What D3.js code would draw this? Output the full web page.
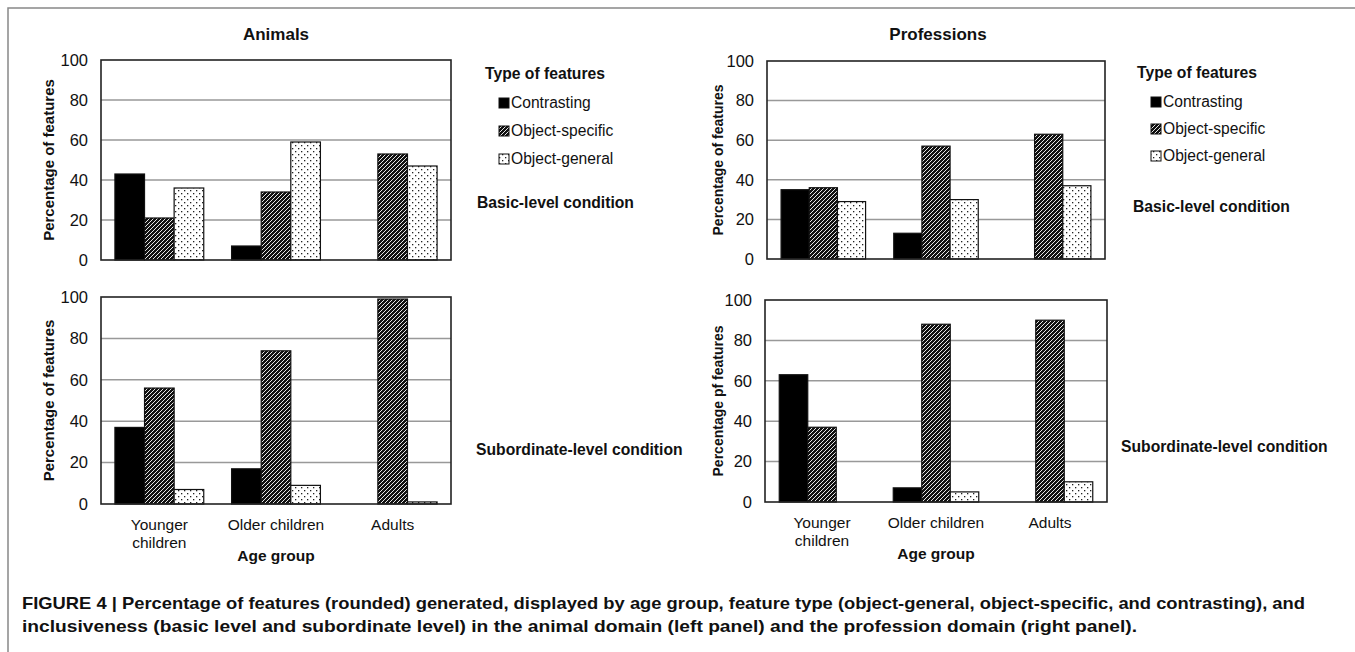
<!DOCTYPE html>
<html>
<head>
<meta charset="utf-8">
<script src="https://cdn.jsdelivr.net/npm/d3@7"></script>
<style>
  body { margin: 0; background: #fff; }
  text { font-family: "Liberation Sans", Arial, sans-serif; fill: #111; }
</style>
</head>
<body>
<div class="wrapper"></div>
<script>
// data
const ageGroups = ['Younger children', 'Older children', 'Adults']
const featureTypes = ['Contrasting', 'Object-specific', 'Object-general']
const yTicks = [0, 20, 40, 60, 80, 100]

// rows = age group, cols = feature type
const animalsBasic = [[43, 21, 36], [7, 34, 59], [0, 53, 47]]
const animalsSub = [[37, 56, 7], [17, 74, 9], [0, 99, 1]]
const professionsBasic = [[35, 36, 29], [13, 57, 30], [0, 63, 37]]
const professionsSub = [[63, 37, 0], [7, 88, 5], [0, 90, 10]]

const width = 1355, height = 652

let svg = d3.select('.wrapper').append('svg')
  .attr('width', width)
  .attr('height', height)

let defs = svg.append('defs')

let hatch = defs.append('pattern')
  .attr('id', 'hatch')
  .attr('patternUnits', 'userSpaceOnUse')
  .attr('width', 4).attr('height', 4)
hatch.append('rect').attr('width', 4).attr('height', 4).attr('fill', '#111')
hatch.append('path')
  .attr('d', 'M-1,1 l2,-2 M0,4 l4,-4 M3,5 l2,-2')
  .attr('stroke', '#fff').attr('stroke-width', 0.9)

let dots = defs.append('pattern')
  .attr('id', 'dots')
  .attr('patternUnits', 'userSpaceOnUse')
  .attr('width', 6).attr('height', 6)
dots.append('rect').attr('width', 6).attr('height', 6).attr('fill', '#fff')
dots.append('rect').attr('x', 1).attr('y', 1).attr('width', 1.3).attr('height', 1.3).attr('fill', '#222')
dots.append('rect').attr('x', 4).attr('y', 4).attr('width', 1.3).attr('height', 1.3).attr('fill', '#222')

const fills = ['#000', 'url(#hatch)', 'url(#dots)']

// frame of the figure
svg.append('path')
  .attr('d', `M8,${height} V8 H${width}`)
  .attr('fill', 'none').attr('stroke', '#888').attr('stroke-width', 1.5)

function drawPanel(data, p) {
  let x0 = d3.scaleBand().domain(ageGroups).range([p.left, p.right])
  let x1 = d3.scaleBand().domain(featureTypes)
    .range([0, x0.bandwidth()]).paddingOuter(p.outer)
  let y = d3.scaleLinear().domain([0, 100]).range([p.bottom, p.top])

  let g = svg.append('g')

  // gridlines
  g.append('g').selectAll('line')
    .data(yTicks.filter(t => t > 0 && t < 100))
    .enter().append('line')
    .attr('x1', p.left).attr('x2', p.right)
    .attr('y1', d => y(d)).attr('y2', d => y(d))
    .attr('stroke', '#999').attr('stroke-width', 1.5)

  // bars
  data.forEach((row, i) => {
    g.append('g').selectAll('rect')
      .data(row.map((v, j) => ({ v, j })).filter(d => d.v > 0))
      .enter().append('rect')
      .attr('x', d => x0(ageGroups[i]) + x1(featureTypes[d.j]))
      .attr('width', x1.bandwidth())
      .attr('y', d => y(d.v))
      .attr('height', d => y(0) - y(d.v))
      .attr('fill', d => fills[d.j])
      .attr('stroke', '#111').attr('stroke-width', 1.2)
  })

  // plot border
  g.append('rect')
    .attr('x', p.left).attr('y', p.top)
    .attr('width', p.right - p.left).attr('height', p.bottom - p.top)
    .attr('fill', 'none').attr('stroke', '#222').attr('stroke-width', 1.6)

  // y axis
  let yAxis = g.append('g')
    .attr('transform', `translate(${p.left},0)`)
    .call(d3.axisLeft(y).tickValues(yTicks).tickSize(0).tickPadding(13))
  yAxis.select('.domain').remove()
  yAxis.selectAll('text')
    .attr('font-family', '"Liberation Sans", Arial, sans-serif')
    .attr('font-size', 16.5).attr('fill', '#111')

  g.append('text')
    .attr('transform', `translate(${p.ylabX},${(p.top + p.bottom) / 2}) rotate(-90)`)
    .attr('text-anchor', 'middle')
    .attr('dy', '0.35em')
    .attr('font-size', p.ylabSize).attr('font-weight', 'bold')
    .text(p.ylab)

  if (p.xlabels) {
    let xl = g.append('g').selectAll('text')
      .data(ageGroups)
      .enter().append('text')
      .attr('x', d => x0(d) + x0.bandwidth() / 2)
      .attr('y', p.bottom + 26)
      .attr('text-anchor', 'middle')
      .attr('font-size', 15.5)
    xl.each(function (d) {
      let lines = d === 'Younger children' ? ['Younger', 'children'] : [d]
      d3.select(this).selectAll('tspan')
        .data(lines).enter().append('tspan')
        .attr('x', x0(d) + x0.bandwidth() / 2)
        .attr('dy', (l, k) => k === 0 ? 0 : 18)
        .text(l => l)
    })
    g.append('text')
      .attr('x', x0('Older children') + x0.bandwidth() / 2)
      .attr('y', p.bottom + 57)
      .attr('text-anchor', 'middle')
      .attr('font-size', 15.5).attr('font-weight', 'bold')
      .text('Age group')
  }
}

function drawLegend(x, y, gap) {
  let g = svg.append('g')
  g.append('text')
    .attr('x', x).attr('y', y + 5)
    .attr('font-size', 15.7).attr('font-weight', 'bold')
    .text('Type of features')
  featureTypes.forEach((t, i) => {
    let cy = y + 29 + i * gap
    g.append('rect')
      .attr('x', x + 14).attr('y', cy - 5)
      .attr('width', 10).attr('height', 10)
      .attr('fill', fills[i]).attr('stroke', '#111').attr('stroke-width', 1)
    g.append('text')
      .attr('x', x + 26).attr('y', cy + 5)
      .attr('font-size', 15.6)
      .text(t)
  })
}

function label(x, y, txt) {
  svg.append('text')
    .attr('x', x).attr('y', y + 5)
    .attr('font-size', 15.7).attr('font-weight', 'bold')
    .text(txt)
}

// titles
svg.append('text').attr('x', 276).attr('y', 40).attr('text-anchor', 'middle')
  .attr('font-size', 17).attr('font-weight', 'bold').text('Animals')
svg.append('text').attr('x', 938).attr('y', 40).attr('text-anchor', 'middle')
  .attr('font-size', 17).attr('font-weight', 'bold').text('Professions')

drawPanel(animalsBasic, { left: 101, right: 451, top: 60, bottom: 260, outer: 0.47,
  ylab: 'Percentage of features', ylabX: 49, ylabSize: 15 })
drawPanel(animalsSub, { left: 101, right: 451, top: 297, bottom: 504, outer: 0.47,
  ylab: 'Percentage of features', ylabX: 49, ylabSize: 15, xlabels: true })
drawPanel(professionsBasic, { left: 767, right: 1105, top: 61, bottom: 259, outer: 0.5,
  ylab: 'Percentage of features', ylabX: 718, ylabSize: 14 })
drawPanel(professionsSub, { left: 765, right: 1107, top: 300, bottom: 502, outer: 0.5,
  ylab: 'Percentage pf features', ylabX: 718, ylabSize: 14, xlabels: true })

drawLegend(485, 74, 28)
drawLegend(1137, 73, 27)

label(477, 203, 'Basic-level condition')
label(1133, 207, 'Basic-level condition')
label(476, 450, 'Subordinate-level condition')
label(1121, 447, 'Subordinate-level condition')

// caption
let cap = svg.append('g')
cap.append('text').attr('x', 22).attr('y', 609)
  .attr('font-size', 17).attr('font-weight', 'bold').attr('fill', '#222')
  .attr('textLength', 1283).attr('lengthAdjust', 'spacingAndGlyphs')
  .text('FIGURE 4 | Percentage of features (rounded) generated, displayed by age group, feature type (object-general, object-specific, and contrasting), and')
cap.append('text').attr('x', 22).attr('y', 632)
  .attr('font-size', 17).attr('font-weight', 'bold').attr('fill', '#222')
  .attr('textLength', 1115).attr('lengthAdjust', 'spacingAndGlyphs')
  .text('inclusiveness (basic level and subordinate level) in the animal domain (left panel) and the profession domain (right panel).')
</script>
</body>
</html>
